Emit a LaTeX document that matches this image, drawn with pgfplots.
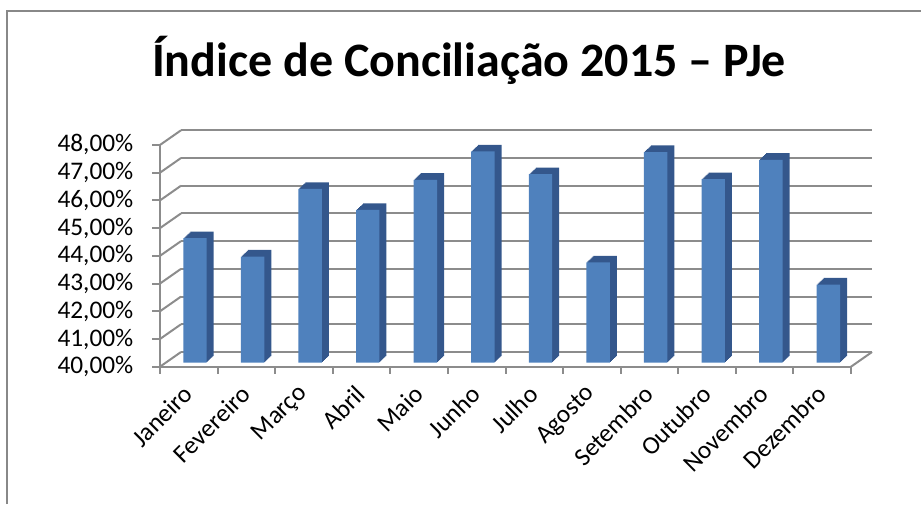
\documentclass[border=0pt]{standalone}
\usepackage{fontspec}
\setmainfont{Carlito}
\usepackage{pgfplots}
\usepackage{pgfplotstable}
\pgfplotsset{compat=1.18}
\definecolor{barfront}{HTML}{4F81BD}
\definecolor{barside}{HTML}{34578C}
\definecolor{gridgray}{HTML}{8C8C8C}
\definecolor{framegray}{HTML}{888888}
\pgfplotstableread{
idx v
0 44.49
1 43.83
2 46.27
3 45.51
4 46.60
5 47.62
6 46.80
7 43.62
8 47.60
9 46.62
10 47.32
11 42.82
}\data
\begin{document}
\begin{tikzpicture}
\path[use as bounding box] (0,0) rectangle (690.75pt,378pt);
\draw[framegray, line width=1.5pt] (5.25pt,0) -- (5.25pt,369.75pt) -- (690.75pt,369.75pt);
\node[anchor=base, font=\fontsize{36}{40}\selectfont\bfseries] at (351.75pt,320.25pt) {Índice de Conciliação 2015 – PJe};
\begin{axis}[
 at={(120pt,102.98pt)}, anchor=south west, scale only axis,
 width=518.25pt, height=166.3pt,
 xmin=-0.5, xmax=11.5, ymin=0, ymax=8, clip=false,
 axis lines*=left, axis line style={draw=gridgray, line width=1.5pt},
 ytick={0,...,8},
 yticklabels={{40,00\%},{41,00\%},{42,00\%},{43,00\%},{44,00\%},{45,00\%},{46,00\%},{47,00\%},{48,00\%}},
 xtick={0,...,11},
 xticklabels={Janeiro,Fevereiro,Março,Abril,Maio,Junho,Julho,Agosto,Setembro,Outubro,Novembro,Dezembro},
 minor xtick={-0.5,0.5,...,11.5},
 tick align=outside, major tick length=6pt, minor tick length=5.25pt,
 every major x tick/.style={draw=none},
 every minor x tick/.style={draw=gridgray, line width=1.5pt},
 every major y tick/.style={draw=gridgray, line width=1.5pt},
 ymajorgrids,
 major grid style={draw=gridgray, line width=1.5pt, xshift=15.75pt, yshift=11pt},
 tick label style={font=\fontsize{19}{22}\selectfont},
 yticklabel style={xshift=-10.5pt},
 xticklabel style={xshift=2pt, yshift=-9pt, rotate=45, anchor=east},
]
\pgfplotsinvokeforeach{0,...,8}{
  \addplot[draw=gridgray, line width=1.5pt] coordinates {(-0.5,#1) (-0.135,#1.53)};
}
\addplot[draw=gridgray, line width=1.5pt] coordinates {(11.5,0) (11.865,0.53)};
\pgfplotsinvokeforeach{7,6,5,4,3,2,1}{
  \addplot[ybar, bar width=17.55pt, fill=barside, draw=none,
    xshift={4.65pt+#1*0.75pt}, yshift={3pt+#1*0.707pt}]
    table[x=idx, y expr=\thisrow{v}-40] {\data};
}
\addplot[ybar, bar width=17.55pt, fill=barfront, draw=none, xshift=4.65pt, yshift=3pt]
  table[x=idx, y expr=\thisrow{v}-40] {\data};
\end{axis}
\end{tikzpicture}
\end{document}
